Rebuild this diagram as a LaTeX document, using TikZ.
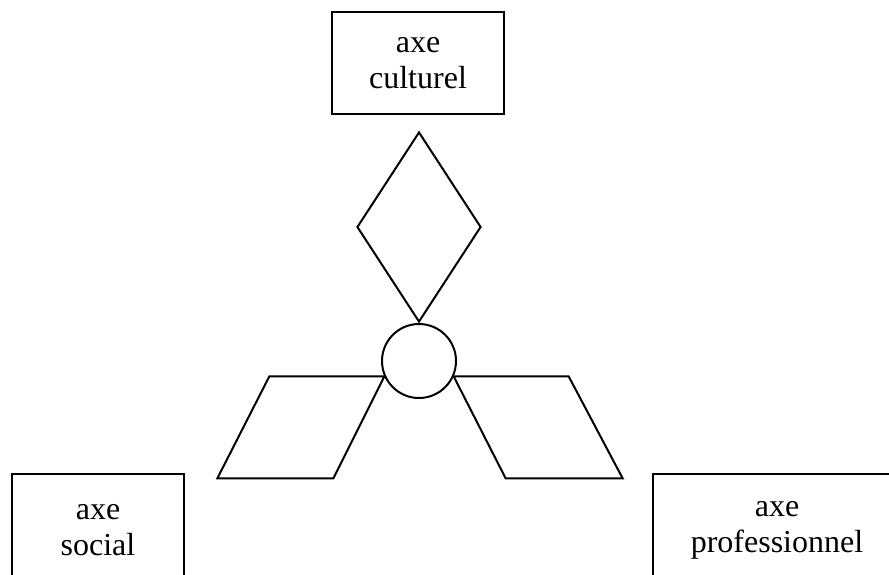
\documentclass[tikz,border=0pt]{standalone}
\usepackage{fontspec}
\setmainfont{Liberation Serif}
\usetikzlibrary{shapes.geometric}
\tikzset{
  axebox/.style={draw, line width=2pt, align=center, inner sep=0pt,
    font=\fontsize{32}{36}\selectfont},
  blade/.style={line width=2pt, line join=miter}
}
\begin{document}
\begin{tikzpicture}[x=1pt,y=-1pt]
\useasboundingbox (0,0) rectangle (889,574);
\node[axebox, minimum width=172, minimum height=102] (culturel) at (418,63) {axe\\culturel};
\node[axebox, minimum width=172, minimum height=112] (social) at (98,530) {axe\\social};
\node[axebox, minimum width=248, minimum height=112] (pro) at (777,530) {axe\\professionnel};
\node[draw, circle, line width=2pt, minimum size=74, inner sep=0pt] (hub) at (419,361) {};
\node[draw, diamond, line width=2pt, minimum width=124, minimum height=190, inner sep=0pt, anchor=south] (haut) at (hub.north) {};
\draw[blade] (hub.204) -- ++(-115,0) -- ++(-52,102) -- ++(116,0) -- cycle;
\draw[blade] (hub.336) -- ++(115,0) -- ++(54,102) -- ++(-117,0) -- cycle;
\end{tikzpicture}
\end{document}
